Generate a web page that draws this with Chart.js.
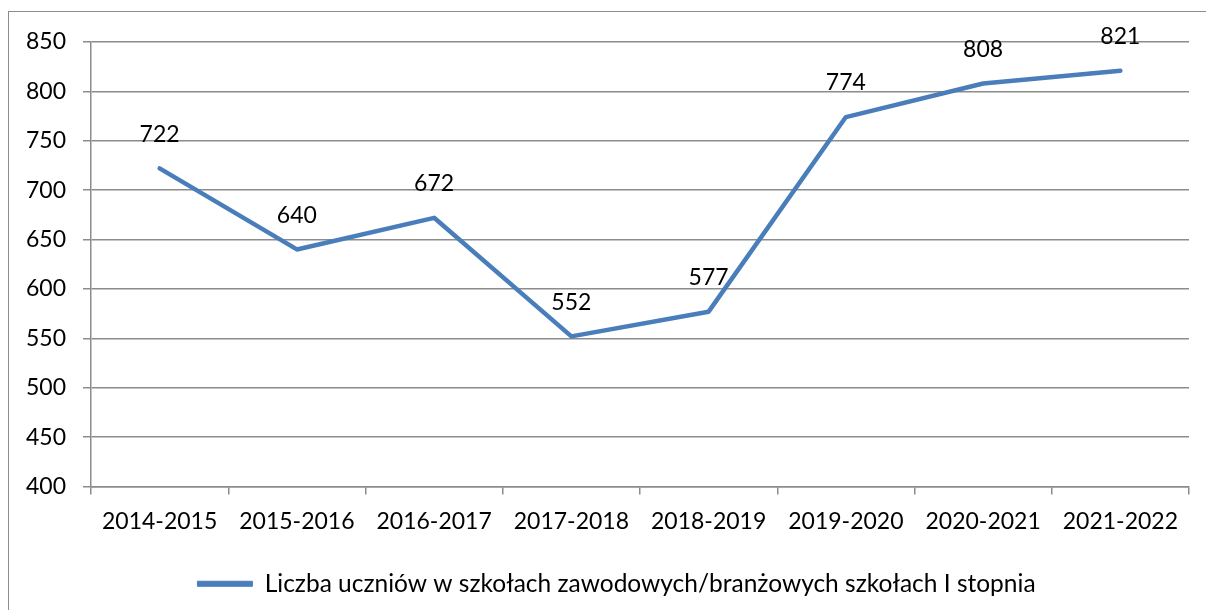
<!DOCTYPE html>
<html>
<head>
<meta charset="utf-8">
<script src="https://cdn.jsdelivr.net/npm/chart.js@4.4.1/dist/chart.umd.min.js"></script>
<style>
html,body{margin:0;padding:0;background:#fff;overflow:hidden;}
#wrap{position:relative;width:1206px;height:610px;}
#frame{position:absolute;left:8px;top:11px;width:1210px;height:620px;border:1.5px solid #8c8c8c;box-sizing:border-box;pointer-events:none;}
canvas{position:absolute;left:0;top:0;}
</style>
</head>
<body>
<div id="wrap">
<canvas id="c" width="1206" height="610"></canvas>
<div id="frame"></div>
</div>
<script>
const categories = ["2014-2015","2015-2016","2016-2017","2017-2018","2018-2019","2019-2020","2020-2021","2021-2022"];
const values = [722, 640, 672, 552, 577, 774, 808, 821];
const seriesName = "Liczba uczniów w szkołach zawodowych/branżowych szkołach I stopnia";
const yMin = 400, yMax = 850, yStep = 50;

const FONT = "Lato";
const lineColor = "#4a7ebb";
const gridColor = "#8c8c8c";

const dataLabels = {
  id: "dataLabels",
  afterDatasetsDraw(chart) {
    const ctx = chart.ctx;
    const meta = chart.getDatasetMeta(0);
    ctx.save();
    ctx.font = "23px " + FONT;
    ctx.fillStyle = "#000";
    ctx.textAlign = "center";
    ctx.textBaseline = "middle";
    meta.data.forEach((pt, i) => {
      ctx.fillText(String(values[i]), pt.x, pt.y - 34);
    });
    ctx.restore();
  }
};

const legendShift = {
  id: "legendShift",
  afterLayout(chart) {
    if (chart.legend) chart.legend.left += 44;
  }
};

new Chart(document.getElementById("c"), {
  type: "line",
  data: {
    labels: categories,
    datasets: [{
      label: seriesName,
      data: values,
      borderColor: lineColor,
      backgroundColor: lineColor,
      borderWidth: 4.5,
      borderCapStyle: "round",
      borderJoinStyle: "round",
      pointRadius: 0,
      tension: 0,
      fill: false
    }]
  },
  options: {
    responsive: false,
    animation: false,
    layout: { padding: { top: 42, left: 0, right: 17, bottom: 4 } },
    scales: {
      x: {
        offset: true,
        grid: { offset: true, drawOnChartArea: false, drawTicks: true, tickLength: 8, color: gridColor, lineWidth: 1.5 },
        border: { display: true, color: gridColor, width: 1.5 },
        ticks: { color: "#000", font: { family: FONT, size: 23 }, padding: 13, maxRotation: 0, autoSkip: false },
        afterFit(s) { s.height = 75; }
      },
      y: {
        min: yMin, max: yMax,
        grid: { color: gridColor, lineWidth: 1.5, tickLength: 8 },
        border: { display: true, color: gridColor, width: 1.5 },
        ticks: { stepSize: yStep, color: "#000", font: { family: FONT, size: 23 }, padding: 17 },
        afterFit(s) { s.width = 91; }
      }
    },
    plugins: {
      tooltip: { enabled: false },
      legend: {
        position: "bottom",
        labels: {
          color: "#000",
          font: { family: FONT, size: 24.5 },
          boxWidth: 55,
          boxHeight: 5,
          padding: 10,
          generateLabels(chart) {
            return [{ text: seriesName, fillStyle: lineColor, strokeStyle: lineColor, lineWidth: 1, fontColor: "#000", datasetIndex: 0, hidden: false }];
          }
        }
      }
    }
  },
  plugins: [dataLabels, legendShift]
});
</script>
</body>
</html>
